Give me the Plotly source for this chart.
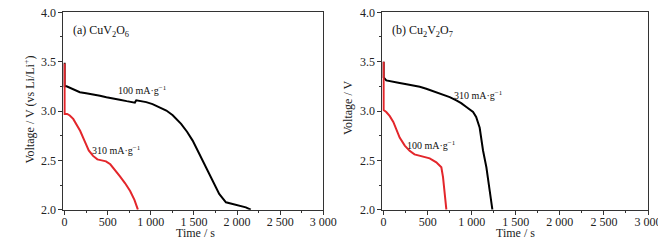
import plotly.graph_objects as go

# Panel (a) CuV2O6
a_black_t = [0, 0, 23, 100, 177, 250, 330, 410, 485, 560, 639, 720, 792, 815, 831, 880, 947, 1020, 1100, 1180, 1254, 1351, 1420, 1485, 1560, 1640, 1720, 1793, 1871, 1947, 2024, 2102, 2159]
a_black_v = [3.49, 3.25, 3.25, 3.22, 3.19, 3.18, 3.17, 3.155, 3.14, 3.13, 3.115, 3.10, 3.085, 3.085, 3.108, 3.10, 3.09, 3.07, 3.04, 3.005, 2.957, 2.87, 2.79, 2.70, 2.57, 2.43, 2.30, 2.16, 2.075, 2.058, 2.047, 2.024, 2.0]
a_red_t = [0, 0, 30, 60, 100, 140, 180, 230, 280, 330, 380, 430, 480, 530, 580, 640, 700, 760, 810, 850]
a_red_v = [3.48, 2.97, 2.97, 2.955, 2.92, 2.86, 2.80, 2.70, 2.60, 2.545, 2.51, 2.50, 2.49, 2.46, 2.41, 2.34, 2.27, 2.19, 2.10, 2.0]

# Panel (b) Cu2V2O7
b_black_t = [0, 0, 30, 100, 182, 260, 333, 410, 484, 560, 636, 700, 750, 825, 880, 939, 1015, 1050, 1072, 1090, 1128, 1166, 1204, 1234]
b_black_v = [3.50, 3.34, 3.31, 3.295, 3.283, 3.27, 3.26, 3.245, 3.226, 3.20, 3.175, 3.16, 3.14, 3.108, 3.08, 3.04, 2.99, 2.94, 2.87, 2.83, 2.60, 2.43, 2.19, 2.0]
b_red_t = [0, 0, 30, 68, 110, 150, 182, 240, 295, 350, 409, 470, 523, 598, 640, 655, 674, 693, 712]
b_red_v = [3.50, 3.01, 2.99, 2.95, 2.89, 2.80, 2.73, 2.65, 2.596, 2.56, 2.545, 2.535, 2.52, 2.48, 2.45, 2.43, 2.33, 2.19, 2.0]

x_tickvals = [0, 500, 1000, 1500, 2000, 2500, 3000]
x_ticktext = ["0", "500", "1 000", "1 500", "2 000", "2 500", "3 000"]
y_tickvals = [2.0, 2.5, 3.0, 3.5, 4.0]
y_ticktext = ["2.0", "2.5", "3.0", "3.5", "4.0"]

BLACK = "#000000"
RED = "#e3262b"
FONT = "Liberation Serif"
OFF = 8  # default page body margin
W, H = 666 - OFF, 248 - OFF


def fx(px):
    return (px - OFF) / W


def fy(py):
    return 1 - (py - OFF) / H


fig = go.Figure()
fig.add_trace(go.Scatter(x=a_black_t, y=a_black_v, mode="lines", line=dict(color=BLACK, width=2), xaxis="x", yaxis="y", showlegend=False))
fig.add_trace(go.Scatter(x=a_red_t, y=a_red_v, mode="lines", line=dict(color=RED, width=2), xaxis="x", yaxis="y", showlegend=False))
fig.add_trace(go.Scatter(x=b_black_t, y=b_black_v, mode="lines", line=dict(color=BLACK, width=2), xaxis="x2", yaxis="y2", showlegend=False))
fig.add_trace(go.Scatter(x=b_red_t, y=b_red_v, mode="lines", line=dict(color=RED, width=2), xaxis="x2", yaxis="y2", showlegend=False))

axis_common = dict(showline=True, linecolor="#333333", linewidth=1, mirror=True, showgrid=False, zeroline=False,
                   automargin=False, ticks="outside", ticklen=4, tickcolor="#333333", ticklabeloverflow="allow",
                   tickfont=dict(family=FONT, size=12, color="#222222"))
xcommon = dict(axis_common, range=[-15, 3000], tickvals=x_tickvals, ticktext=x_ticktext, ticklabelstandoff=-3,
               minor=dict(ticks="outside", ticklen=2, tickcolor="#333333", tickvals=[250, 750, 1250, 1750, 2250, 2750]))
ycommon = dict(axis_common, range=[2.0, 4.0], tickvals=y_tickvals, ticktext=y_ticktext,
               minor=dict(ticks="outside", ticklen=2, tickcolor="#333333", tickvals=[2.25, 2.75, 3.25, 3.75]))

ydom = [fy(209.7), fy(12.3)]
fig.update_layout(
    width=W, height=H,
    margin=dict(l=0, r=0, t=0, b=0),
    paper_bgcolor="white", plot_bgcolor="white",
    font=dict(family=FONT, size=12, color="#222222"),
    xaxis=dict(xcommon, domain=[fx(63.3), fx(323.3)], anchor="y"),
    yaxis=dict(ycommon, domain=ydom, anchor="x"),
    xaxis2=dict(xcommon, domain=[fx(382.3), fx(648)], anchor="y2"),
    yaxis2=dict(ycommon, domain=ydom, anchor="x2"),
)

title_font = dict(family=FONT, size=12, color="#222222")
# axis titles
for xc, txt, ang, yc in [(195, "Time / s", 0, 233), (515, "Time / s", 0, 233),
                         (28.5, "Voltage / V (vs Li/Li<sup>+</sup>)", -90, 110),
                         (348, "Voltage / V", -90, 108)]:
    fig.add_annotation(x=fx(xc), y=fy(yc), xref="paper", yref="paper", text=txt, textangle=ang,
                       xanchor="center", yanchor="middle", showarrow=False, font=title_font)

ann_font = dict(family=FONT, size=12, color="#111111")
small_font = dict(family=FONT, size=10, color="#111111")
fig.add_annotation(x=0.03, y=0.905, xref="x domain", yref="y domain", text="(a) CuV<sub>2</sub>O<sub>6</sub>",
                   showarrow=False, xanchor="left", yanchor="middle", font=ann_font)
fig.add_annotation(x=900, y=3.21, xref="x", yref="y", text="100 mA·g<sup>−1</sup>", showarrow=False, font=small_font)
fig.add_annotation(x=600, y=2.60, xref="x", yref="y", text="310 mA·g<sup>−1</sup>", showarrow=False, font=small_font)
fig.add_annotation(x=0.03, y=0.905, xref="x2 domain", yref="y2 domain", text="(b) Cu<sub>2</sub>V<sub>2</sub>O<sub>7</sub>",
                   showarrow=False, xanchor="left", yanchor="middle", font=ann_font)
fig.add_annotation(x=1075, y=3.16, xref="x2", yref="y2", text="310 mA·g<sup>−1</sup>", showarrow=False, font=small_font)
fig.add_annotation(x=540, y=2.66, xref="x2", yref="y2", text="100 mA·g<sup>−1</sup>", showarrow=False, font=small_font)

fig.write_html("out.html")
